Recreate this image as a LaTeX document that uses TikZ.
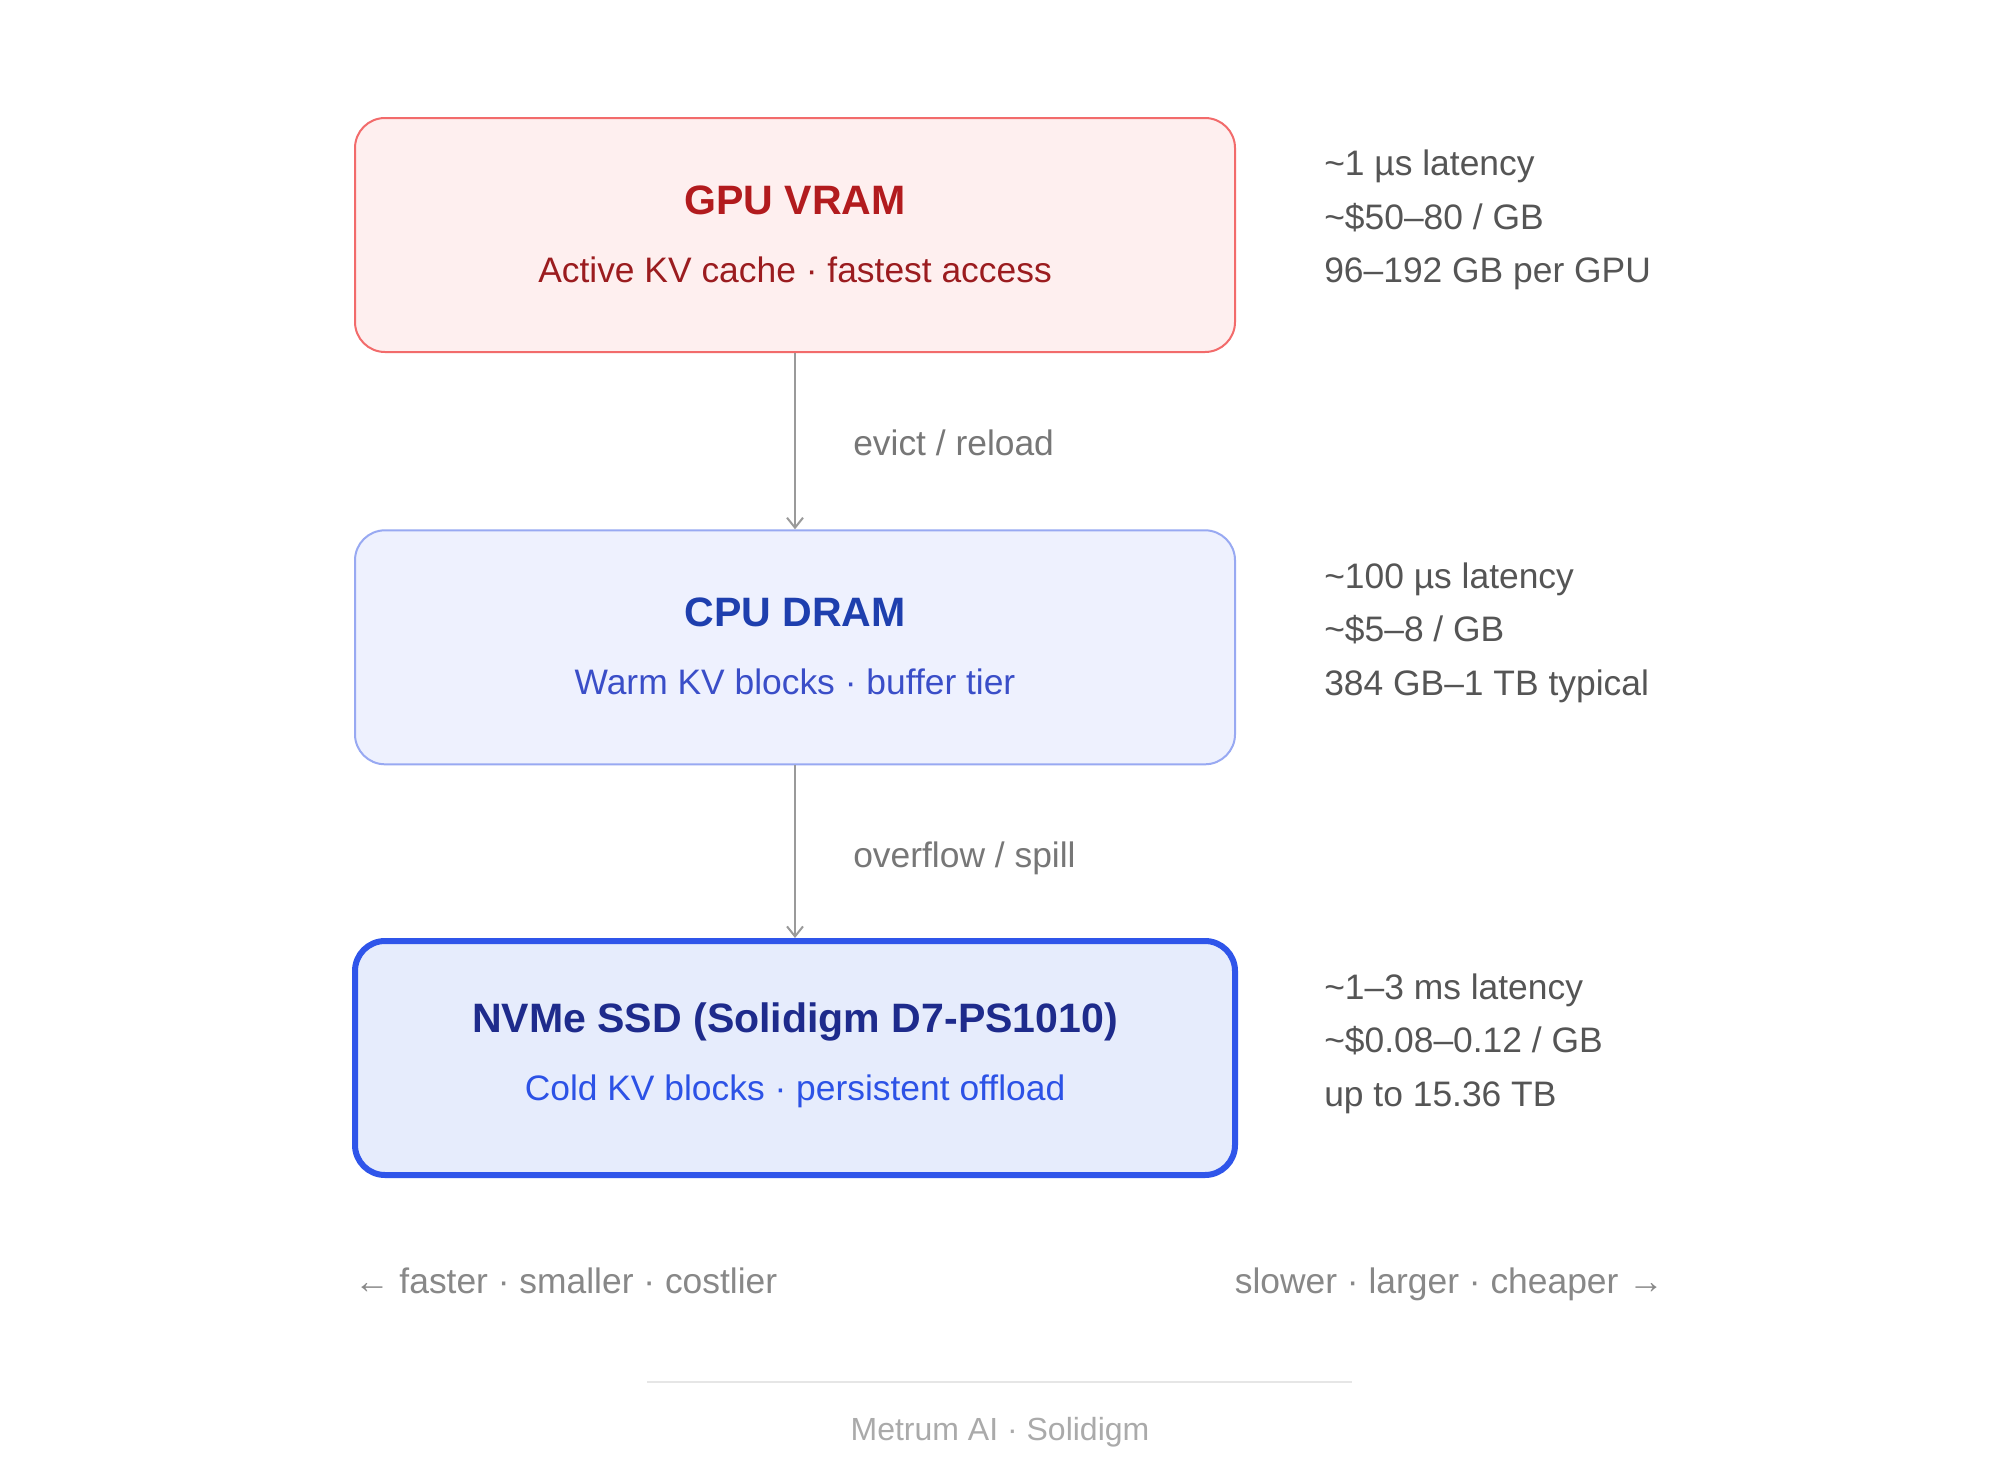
\documentclass[tikz,border=0pt]{standalone}
\usepackage{fontspec}
\setmainfont{Liberation Sans}
\usetikzlibrary{arrows.meta,calc}
\definecolor{gpufill}{HTML}{FEEFEF}
\definecolor{gpuborder}{HTML}{F26B6B}
\definecolor{gputitle}{HTML}{B21B1E}
\definecolor{gpusub}{HTML}{9B1C1F}
\definecolor{cpufill}{HTML}{EEF1FE}
\definecolor{cpuborder}{HTML}{98A9F2}
\definecolor{cputitle}{HTML}{1E3FAE}
\definecolor{cpusub}{HTML}{3A4EC8}
\definecolor{ssdfill}{HTML}{E6ECFC}
\definecolor{ssdborder}{HTML}{2F55EA}
\definecolor{ssdtitle}{HTML}{1E2B8C}
\definecolor{ssdsub}{HTML}{2C52E6}
\definecolor{infotext}{HTML}{555555}
\definecolor{labeltext}{HTML}{777777}
\definecolor{hinttext}{HTML}{888888}
\definecolor{foottext}{HTML}{AAAAAA}
\definecolor{arrowgray}{HTML}{9A9A9A}
\definecolor{rulegray}{HTML}{E6E6E6}
\tikzset{
  tierbox/.style={rectangle, rounded corners=22.5pt, minimum width=660pt, minimum height=175.5pt, inner sep=0pt},
  titletext/.style={anchor=base, inner sep=0pt, font=\fontsize{30.8}{36}\selectfont\bfseries},
  subtext/.style={anchor=base, inner sep=0pt, font=\fontsize{26.55}{32}\selectfont},
  infoline/.style={anchor=base west, inner sep=0pt, text=infotext, font=\fontsize{26.55}{32}\selectfont},
  flowlabel/.style={anchor=base west, inner sep=0pt, text=labeltext, font=\fontsize{26.55}{32}\selectfont},
  hint/.style={inner sep=0pt, text=hinttext, font=\fontsize{26.55}{32}\selectfont},
  flow/.style={draw=arrowgray, line width=1.5pt, -{Straight Barb[length=7.5pt, width=12pt, line width=1.5pt]}},
}
\begin{document}
\begin{tikzpicture}[x=0.75pt, y=-0.75pt]
\fill[white] (0,0) rectangle (1999,1470);
\useasboundingbox (0,0) rectangle (1999,1470);

% boxes
\node[tierbox, fill=gpufill, draw=gpuborder, line width=1.5pt] (gpu) at (795,235) {};
\node[tierbox, fill=cpufill, draw=cpuborder, line width=1.5pt] (cpu) at (795,647.3) {};
\node[tierbox, fill=ssdfill, draw=ssdborder, line width=4.5pt] (ssd) at (795,1058) {};

% box texts
\node[titletext, text=gputitle] (gpuT) at ($(gpu.center)+(0,-21)$) {GPU VRAM};
\node[subtext, text=gpusub] (gpuS) at ($(gpu.center)+(0,47.3)$) {Active KV cache · fastest access};
\node[titletext, text=cputitle] (cpuT) at ($(cpu.center)+(0,-21)$) {CPU DRAM};
\node[subtext, text=cpusub] (cpuS) at ($(cpu.center)+(0,47.3)$) {Warm KV blocks · buffer tier};
\node[titletext, text=ssdtitle] (ssdT) at ($(ssd.center)+(0,-26)$) {NVMe SSD (Solidigm D7-PS1010)};
\node[subtext, text=ssdsub] (ssdS) at ($(ssd.center)+(0,42.3)$) {Cold KV blocks · persistent offload};

% connectors
\draw[flow] (gpu.south) -- (cpu.north);
\draw[flow] (cpu.south) -- (ssd.north);
\node[flowlabel] (l1) at (853,455) {evict / reload};
\node[flowlabel] (l2) at (853,867.4) {overflow / spill};

% info lines
\node[infoline] (g1) at (1324,175.7) {\textasciitilde1 µs latency};
\node[infoline] (g2) at (1324,229.2) {\textasciitilde\$50–80 / GB};
\node[infoline] (g3) at (1324,282.7) {96–192 GB per GPU};
\node[infoline] (c1) at (1324,588) {\textasciitilde100 µs latency};
\node[infoline] (c2) at (1324,641.5) {\textasciitilde\$5–8 / GB};
\node[infoline] (c3) at (1324,695) {384 GB–1 TB typical};
\node[infoline] (s1) at (1324,999) {\textasciitilde1–3 ms latency};
\node[infoline] (s2) at (1324,1052.5) {\textasciitilde\$0.08–0.12 / GB};
\node[infoline] (s3) at (1324,1106) {up to 15.36 TB};

% bottom hints
\node[hint, anchor=base west] (left) at (354,1293.3) {← faster · smaller · costlier};
\node[hint, anchor=base east] (right) at (1664,1293.3) {slower · larger · cheaper →};

% footer
\coordinate (rl) at (647,1381.7);
\coordinate (rr) at (1352,1381.7);
\draw[rulegray, line width=1.5pt] (rl) -- (rr);
\node[inner sep=0pt, anchor=base, text=foottext, font=\fontsize{24}{30}\selectfont] (foot) at (1000,1440) {Metrum AI · Solidigm};
\end{tikzpicture}
\end{document}
